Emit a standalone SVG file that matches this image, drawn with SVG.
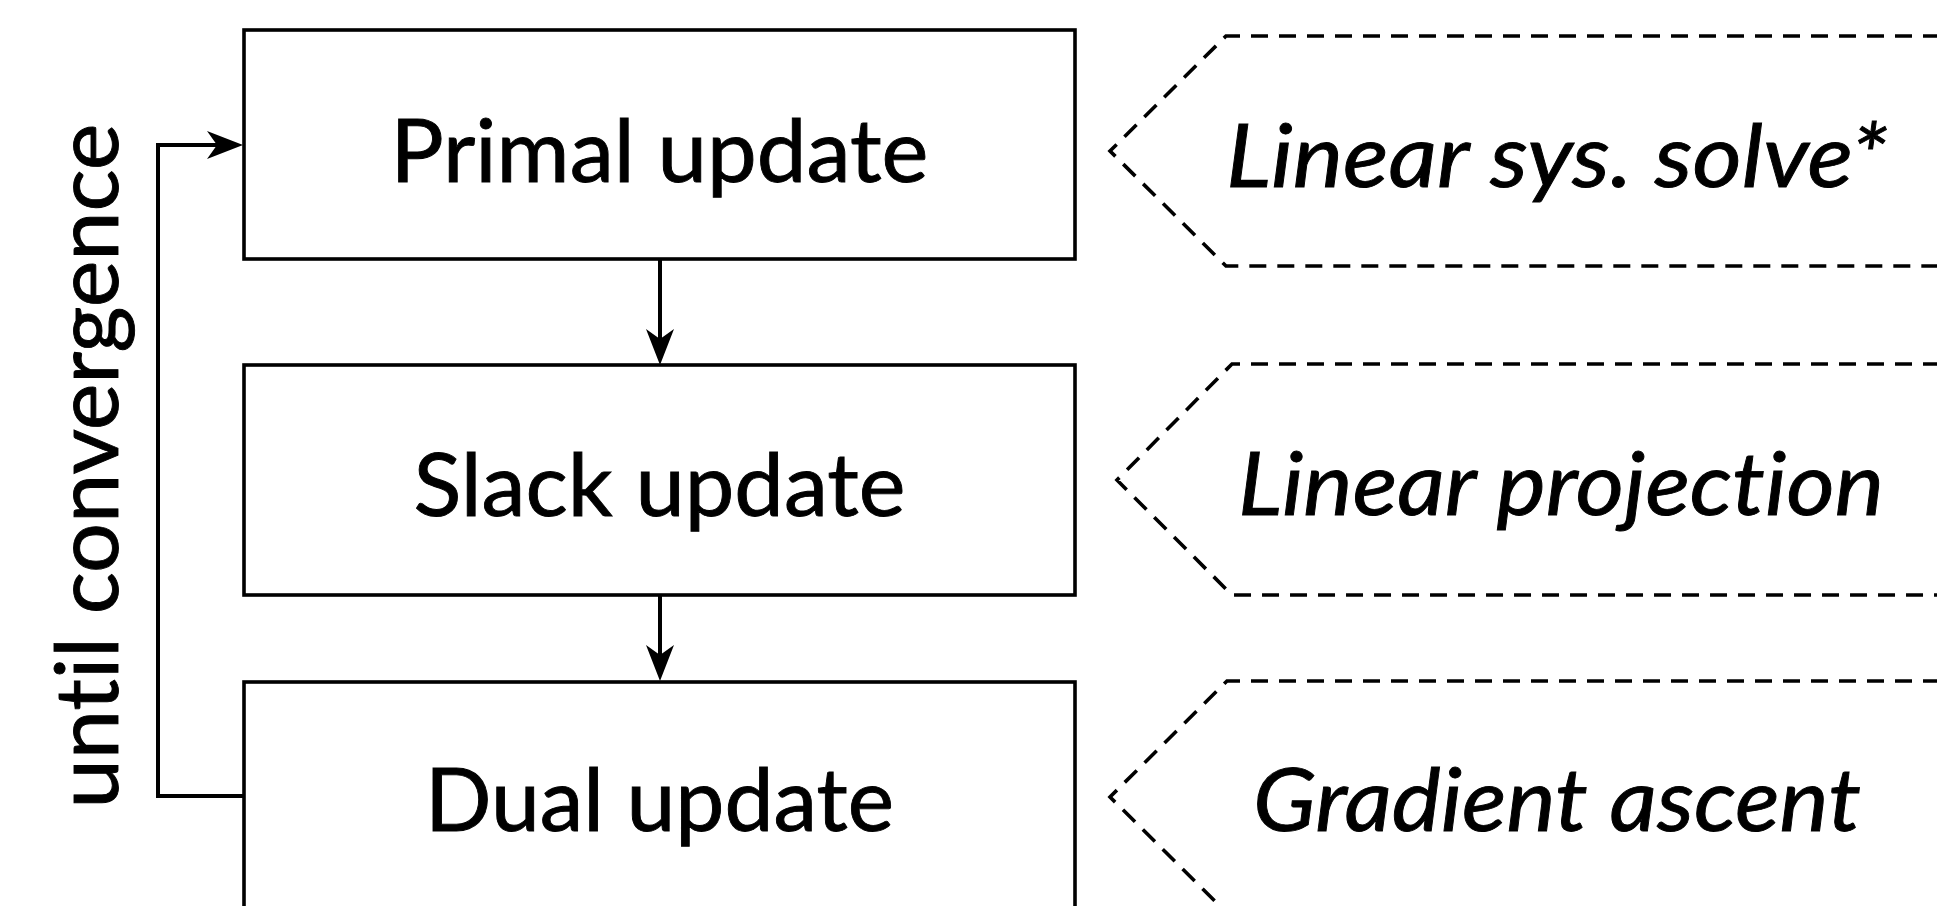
<svg xmlns="http://www.w3.org/2000/svg" width="1937" height="906" viewBox="0 0 1937 906">
  <style>
    .box { fill: #ffffff; stroke: #000000; stroke-width: 3.6; }
    .note { fill: none; stroke: #000000; stroke-width: 3.6; stroke-dasharray: 17 11; stroke-linejoin: miter; }
    .wire { fill: none; stroke: #000000; stroke-width: 4; }
    .lbl { font-family: Lato, "Open Sans", "Liberation Sans", sans-serif; font-size: 87px; fill: #000000; stroke: #000000; stroke-width: 0.9; text-anchor: middle; font-variant-ligatures: none; }
    .it { font-style: italic; }
  </style>
  <defs>
    <marker id="stealth" markerUnits="userSpaceOnUse" markerWidth="40" markerHeight="32" refX="10" refY="0" viewBox="0 -16 40 32" orient="auto">
      <path d="M0,-14 L36,0 L0,14 L10,0 Z" fill="#000000"/>
    </marker>
  </defs>

  <rect width="1937" height="906" fill="#ffffff"/>

  <!-- loop label -->
  <text class="lbl" transform="translate(118,466) rotate(-90)" textLength="685" lengthAdjust="spacingAndGlyphs">until convergence</text>

  <!-- process steps -->
  <g id="primal">
    <rect class="box" x="244" y="30" width="831" height="229"/>
    <text class="lbl" x="659.5" y="182" textLength="538" lengthAdjust="spacingAndGlyphs">Primal update</text>
  </g>
  <g id="slack">
    <rect class="box" x="244" y="365" width="831" height="230"/>
    <text class="lbl" x="659.5" y="516" textLength="492" lengthAdjust="spacingAndGlyphs">Slack update</text>
  </g>
  <g id="dual">
    <rect class="box" x="244" y="682" width="831" height="229"/>
    <text class="lbl" x="659.5" y="831" textLength="469" lengthAdjust="spacingAndGlyphs">Dual update</text>
  </g>

  <!-- method callouts -->
  <g id="linsolve">
    <path class="note" d="M1940,36 H1226 L1110,151 L1226,266 H1940"/>
    <text class="lbl it" x="1557" y="187" textLength="662" lengthAdjust="spacingAndGlyphs">Linear sys. solve*</text>
  </g>
  <g id="projection">
    <path class="note" d="M1940,364 H1232 L1117,480 L1232,595 H1940"/>
    <text class="lbl it" x="1561" y="515" textLength="646" lengthAdjust="spacingAndGlyphs">Linear projection</text>
  </g>
  <g id="ascent">
    <path class="note" d="M1940,681 H1227 L1110,797 L1227,913 H1940"/>
    <text class="lbl it" x="1557" y="831" textLength="608" lengthAdjust="spacingAndGlyphs">Gradient ascent</text>
  </g>

  <!-- connectors -->
  <g id="connectors">
    <path class="wire" d="M660,259 V339" marker-end="url(#stealth)"/>
    <path class="wire" d="M660,595 V655" marker-end="url(#stealth)"/>
    <path class="wire" d="M244,796 H158 V145 H217" marker-end="url(#stealth)"/>
  </g>
</svg>
